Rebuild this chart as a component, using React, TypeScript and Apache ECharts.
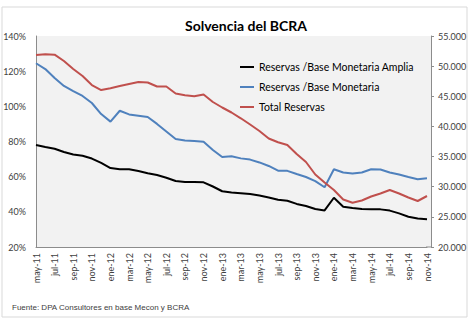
import React, { useEffect, useRef } from "react";
import * as echarts from "echarts";

const months: string[] = [
  "may-11", "jun-11", "jul-11", "ago-11", "sep-11", "oct-11", "nov-11", "dic-11",
  "ene-12", "feb-12", "mar-12", "abr-12", "may-12", "jun-12", "jul-12", "ago-12",
  "sep-12", "oct-12", "nov-12", "dic-12", "ene-13", "feb-13", "mar-13", "abr-13",
  "may-13", "jun-13", "jul-13", "ago-13", "sep-13", "oct-13", "nov-13", "dic-13",
  "ene-14", "feb-14", "mar-14", "abr-14", "may-14", "jun-14", "jul-14", "ago-14",
  "sep-14", "oct-14", "nov-14",
];

// Reservas / Base Monetaria Amplia (%)
const ratioAmplia: number[] = [
  78.0, 76.9, 75.9, 74.0, 72.6, 71.9, 70.3, 67.8, 64.9, 64.2, 64.2, 63.2,
  61.9, 60.9, 59.4, 57.5, 57.0, 56.9, 56.8, 54.4, 51.7, 51.0, 50.6, 50.1,
  49.3, 48.1, 46.9, 46.3, 44.5, 43.3, 41.6, 40.8, 48.0, 42.9, 42.2, 41.6,
  41.4, 41.4, 40.7, 39.1, 37.2, 36.2, 35.8,
];

// Reservas / Base Monetaria (%)
const ratioBase: number[] = [
  124.5, 121.2, 116.1, 111.6, 108.7, 105.9, 101.9, 95.6, 91.3, 97.5, 95.4, 94.7,
  93.9, 90.0, 85.7, 81.4, 80.6, 80.3, 79.9, 75.2, 71.2, 71.6, 70.4, 69.7,
  68.1, 66.1, 63.4, 63.3, 61.5, 59.8, 57.5, 54.0, 64.2, 62.4, 61.8, 62.4,
  64.2, 64.1, 62.4, 61.2, 59.8, 58.5, 59.1,
];

// Total Reservas (millones de US$)
const totalReservas: number[] = [
  51850, 51960, 51910, 50850, 49530, 48370, 46870, 46040, 46330, 46710, 47040, 47370,
  47290, 46620, 46620, 45460, 45180, 45000, 45300, 44050, 43140, 42310, 41350, 40320,
  39240, 38000, 37370, 36920, 35430, 34100, 32030, 30700, 29460, 27880, 27350, 27720,
  28380, 28880, 29460, 28880, 28210, 27630, 28460,
];

const leftTicks = { min: 20, max: 140, interval: 20 };
const rightTicks = { min: 20000, max: 55000, interval: 5000 };

const seriesNames = [
  "Reservas /Base Monetaria Amplia",
  "Reservas /Base Monetaria",
  "Total Reservas",
];

const fmtThousands = (v: number) => {
  const k = Math.floor(v / 1000);
  const r = Math.round(v % 1000);
  return `${k}.${String(r).padStart(3, "0")}`;
};

export default function App() {
  const ref = useRef<HTMLDivElement>(null);
  useEffect(() => {
    if (!ref.current) return;
    const chart = echarts.init(ref.current, null, { renderer: "svg" });
    const axisGrey = "#8c8c8c";
    const labelColor = "#404040";
    chart.setOption({
      animation: false,
      backgroundColor: "#ffffff",
      textStyle: { fontFamily: "Lato" },
      title: {
        text: "Solvencia del BCRA",
        left: 180,
        top: 13,
        textStyle: { fontFamily: "Lato", fontWeight: "bold", fontSize: 14, color: "#000" },
      },
      graphic: [
        {
          type: "rect",
          z: -10,
          shape: { x: 2, y: 7, width: 465, height: 310 },
          style: { fill: "#ffffff", stroke: "#d9d9d9", lineWidth: 1 },
        },
        {
          type: "rect",
          z: -9,
          shape: { x: 36, y: 36, width: 395, height: 211 },
          style: { fill: "#f2f2f2" },
        },
        {
          type: "line",
          z: 1,
          shape: { x1: 426, y1: 247, x2: 431, y2: 247 },
          style: { stroke: axisGrey, lineWidth: 1 },
        },
        {
          type: "text",
          left: 12,
          top: 303,
          style: {
            text: "Fuente: DPA Consultores en base Mecon y BCRA",
            font: "8px 'Liberation Sans', Arial, sans-serif",
            fill: "#404040",
          },
        },
      ],
      legend: {
        orient: "vertical",
        left: 240,
        top: 57,
        padding: 0,
        icon: "rect",
        itemWidth: 14,
        itemHeight: 2,
        itemGap: 0,
        data: seriesNames,
        textStyle: { fontFamily: "Lato", fontSize: 10.5, lineHeight: 20, color: "#000" },
      },
      grid: { left: 36, top: 36, width: 391, height: 211, show: false },
      xAxis: {
        type: "category",
        data: months,
        boundaryGap: false,
        axisLine: { show: true, lineStyle: { color: axisGrey, width: 1 } },
        axisTick: { show: false },
        splitLine: { show: false },
        axisLabel: {
          interval: 1,
          rotate: 90,
          margin: 6,
          fontSize: 9,
          fontFamily: "Lato",
          color: labelColor,
          padding: [11, 0, 0, 0],
        },
      },
      yAxis: [
        {
          type: "value",
          position: "left",
          ...leftTicks,
          axisLine: { show: true, lineStyle: { color: axisGrey, width: 1 } },
          axisTick: { show: false },
          splitLine: { show: false },
          axisLabel: {
            formatter: "{value}%",
            margin: 10,
            fontSize: 9,
            fontFamily: "Lato",
            color: labelColor,
          },
        },
        {
          type: "value",
          position: "right",
          offset: 4,
          ...rightTicks,
          axisLine: { show: true, lineStyle: { color: axisGrey, width: 1 } },
          axisTick: { show: true, length: 3, inside: false, lineStyle: { color: axisGrey } },
          splitLine: { show: false },
          axisLabel: {
            formatter: fmtThousands,
            margin: 7,
            fontSize: 9,
            fontFamily: "Lato",
            color: labelColor,
          },
        },
      ],
      series: [
        {
          name: seriesNames[0],
          type: "line",
          data: ratioAmplia,
          yAxisIndex: 0,
          symbol: "none",
          lineStyle: { color: "#000000", width: 2 },
          itemStyle: { color: "#000000" },
        },
        {
          name: seriesNames[1],
          type: "line",
          data: ratioBase,
          yAxisIndex: 0,
          symbol: "none",
          lineStyle: { color: "#4f81bd", width: 2 },
          itemStyle: { color: "#4f81bd" },
        },
        {
          name: seriesNames[2],
          type: "line",
          data: totalReservas,
          yAxisIndex: 1,
          symbol: "none",
          lineStyle: { color: "#c0504d", width: 2 },
          itemStyle: { color: "#c0504d" },
        },
      ],
    });
    return () => chart.dispose();
  }, []);
  return (
    <div
      ref={ref}
      style={{ position: "absolute", left: 0, top: 0, width: 471, height: 318 }}
    />
  );
}
